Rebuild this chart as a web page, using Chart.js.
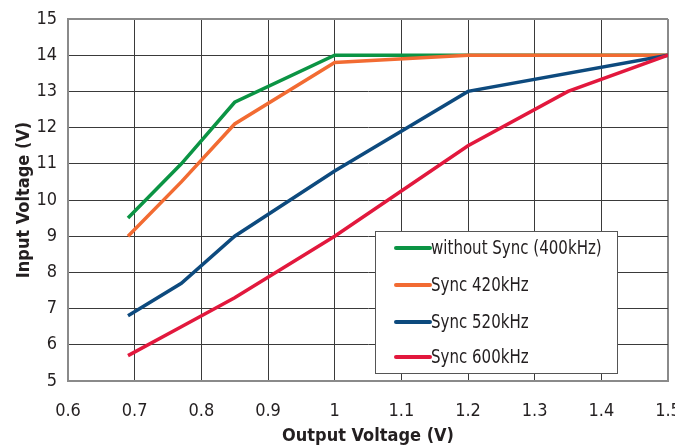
<!DOCTYPE html>
<html>
<head>
<meta charset="utf-8">
<script src="https://cdn.jsdelivr.net/npm/chart.js@4/dist/chart.umd.min.js"></script>
<style>
html,body{margin:0;padding:0;background:#fff;}
canvas{display:block;}
</style>
</head>
<body>
<canvas id="c" width="675" height="446"></canvas>
<script>
const seriesLabels = ["without Sync (400kHz)", "Sync 420kHz", "Sync 520kHz", "Sync 600kHz"];
const seriesColors = ["#0b9444", "#f26b32", "#0d4a7e", "#e2183d"];

const greenX = [0.69, 0.77, 0.85, 1.0, 1.2, 1.5];
const greenY = [9.5, 11.0, 12.7, 14.0, 14.0, 14.0];
const orangeX = [0.69, 0.77, 0.85, 1.0, 1.2, 1.5];
const orangeY = [9.0, 10.5, 12.1, 13.8, 14.0, 14.0];
const blueX = [0.69, 0.77, 0.85, 1.0, 1.2, 1.5];
const blueY = [6.8, 7.7, 9.0, 10.8, 13.0, 14.0];
const redX = [0.69, 0.77, 0.85, 1.0, 1.2, 1.35, 1.5];
const redY = [5.7, 6.5, 7.3, 9.0, 11.5, 13.0, 14.0];

const xTicks = [0.6, 0.7, 0.8, 0.9, 1.0, 1.1, 1.2, 1.3, 1.4, 1.5];
const yTicks = [5, 6, 7, 8, 9, 10, 11, 12, 13, 14, 15];

const FONT = "'Liberation Sans Narrow', 'Arial Narrow', 'DejaVu Sans Condensed', sans-serif";

function pts(xs, ys) { return xs.map((x, i) => ({x: x, y: ys[i]})); }

const allX = [greenX, orangeX, blueX, redX];
const allY = [greenY, orangeY, blueY, redY];
const drawOrder = [3, 2, 1, 0];

const datasets = seriesLabels.map((lab, i) => ({
  label: lab,
  data: pts(allX[i], allY[i]),
  borderColor: seriesColors[i],
  backgroundColor: seriesColors[i],
  borderWidth: 3.5,
  pointRadius: 0,
  tension: 0,
  fill: false,
  order: drawOrder[i],
  borderCapStyle: 'butt',
  borderJoinStyle: 'miter'
}));

const legendPlugin = {
  id: 'boxLegend',
  afterDraw(chart) {
    const ctx = chart.ctx;
    const ca = chart.chartArea;
    const bx = ca.left + 307, by = ca.top + 212, bw = 242, bh = 142;
    ctx.save();
    ctx.fillStyle = '#ffffff';
    ctx.fillRect(bx, by, bw, bh);
    ctx.strokeStyle = '#555555';
    ctx.lineWidth = 1;
    ctx.strokeRect(bx + 0.5, by + 0.5, bw, bh);
    const rowY = [17, 54, 91, 126];
    chart.data.datasets.forEach((ds, i) => {
      const y = by + rowY[i];
      ctx.strokeStyle = ds.borderColor;
      ctx.lineWidth = 4;
      ctx.lineCap = 'round';
      ctx.beginPath();
      ctx.moveTo(bx + 21, y);
      ctx.lineTo(bx + 55, y);
      ctx.stroke();
      ctx.save();
      ctx.translate(bx + 56, y + 1);
      ctx.scale(0.88, 1);
      ctx.font = "19px " + FONT;
      ctx.textBaseline = 'middle';
      ctx.textAlign = 'left';
      ctx.fillStyle = '#231f20';
      ctx.fillText(ds.label, 0, 0);
      ctx.restore();
    });
    ctx.restore();
  }
};

const edgeColor = '#8a8a8a';
const gridColor = '#3a3a3a';

new Chart(document.getElementById('c'), {
  type: 'line',
  data: { datasets: datasets },
  plugins: [legendPlugin],
  options: {
    responsive: false,
    animation: false,
    devicePixelRatio: 1,
    layout: { padding: { top: 19, right: 7, left: 0, bottom: 0 } },
    plugins: { legend: { display: false }, tooltip: { enabled: false } },
    scales: {
      x: {
        type: 'linear',
        min: 0.6, max: 1.5,
        afterBuildTicks(scale) { scale.ticks = xTicks.map(v => ({value: v})); },
        afterFit(scale) { scale.height = 65; scale.paddingLeft = 0; scale.paddingRight = 0; },
        ticks: {
          color: '#231f20',
          font: { family: FONT, size: 18 },
          padding: 20,
          maxRotation: 0,
          callback: v => (Math.round(v * 10) / 10).toString()
        },
        grid: {
          drawTicks: false,
          color: c => (c.tick && (c.tick.value === 0.6 || c.tick.value === 1.5)) ? edgeColor : gridColor,
          lineWidth: c => (c.tick && (c.tick.value === 0.6 || c.tick.value === 1.5)) ? 2 : 1
        },
        border: { color: edgeColor, width: 2 },
        title: {
          display: true,
          text: 'Output Voltage (V)',
          color: '#231f20',
          font: { family: FONT, size: 18, weight: 'bold' },
          padding: { top: 0, bottom: -1 }
        }
      },
      y: {
        type: 'linear',
        min: 5, max: 15,
        afterBuildTicks(scale) { scale.ticks = yTicks.map(v => ({value: v})); },
        afterFit(scale) { scale.width = 68; scale.paddingTop = 0; scale.paddingBottom = 0; },
        ticks: {
          color: '#231f20',
          font: { family: FONT, size: 18 },
          padding: 11
        },
        grid: {
          drawTicks: false,
          color: c => (c.tick && (c.tick.value === 5 || c.tick.value === 15)) ? edgeColor : gridColor,
          lineWidth: c => (c.tick && (c.tick.value === 5 || c.tick.value === 15)) ? 2 : 1
        },
        border: { color: edgeColor, width: 2 },
        title: {
          display: true,
          text: 'Input Voltage (V)',
          color: '#231f20',
          font: { family: FONT, size: 18, weight: 'bold' },
          padding: { top: 14, bottom: 0 }
        }
      }
    }
  }
});
</script>
</body>
</html>
